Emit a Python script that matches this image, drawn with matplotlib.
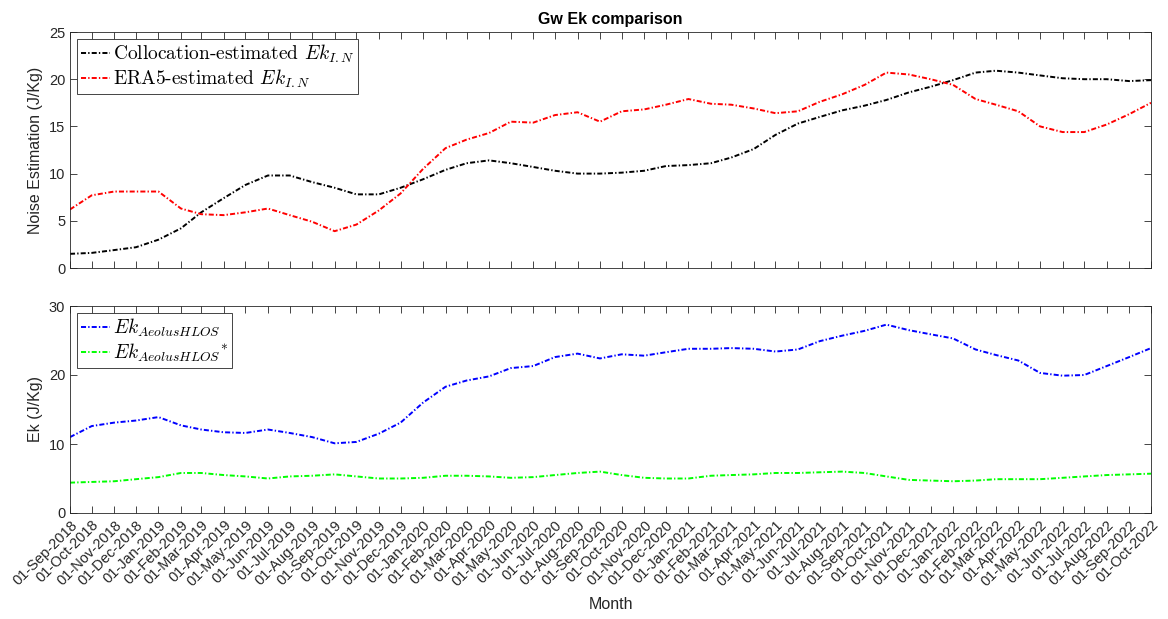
import numpy as np
import pandas as pd
import matplotlib
matplotlib.use("Agg")
import matplotlib.pyplot as plt
import matplotlib.dates as mdates

plt.rcParams['font.family'] = ['Liberation Sans', 'DejaVu Sans']
plt.rcParams['mathtext.fontset'] = 'cm'

# monthly samples, 01-Sep-2018 .. 01-Oct-2022
months = pd.date_range('2018-09-01', '2022-10-01', freq='MS')

# top panel: noise estimation
colloc_ek = [1.5, 1.6, 1.9, 2.2, 3.0, 4.2, 5.9, 7.4, 8.8, 9.8,
             9.8, 9.1, 8.5, 7.8, 7.8, 8.5, 9.4, 10.4, 11.1, 11.4,
             11.1, 10.7, 10.3, 10.0, 10.0, 10.1, 10.3, 10.8, 10.9, 11.1,
             11.7, 12.6, 14.1, 15.3, 16.0, 16.7, 17.2, 17.8, 18.6, 19.2,
             19.9, 20.7, 20.9, 20.7, 20.4, 20.1, 20.0, 20.0, 19.8, 19.9]
era5_ek = [6.2, 7.7, 8.1, 8.1, 8.1, 6.3, 5.7, 5.6, 5.9, 6.3,
           5.6, 4.9, 3.9, 4.6, 6.1, 7.9, 10.5, 12.7, 13.6, 14.3,
           15.5, 15.4, 16.2, 16.5, 15.5, 16.6, 16.8, 17.3, 17.9, 17.4,
           17.3, 16.9, 16.4, 16.6, 17.6, 18.4, 19.4, 20.7, 20.5, 20.0,
           19.4, 17.9, 17.3, 16.6, 15.0, 14.4, 14.4, 15.2, 16.3, 17.5]

# bottom panel: Aeolus HLOS Ek
aeolus_ek = [11.0, 12.6, 13.1, 13.4, 13.9, 12.7, 12.1, 11.7, 11.6, 12.1,
             11.6, 11.0, 10.1, 10.3, 11.5, 13.1, 16.0, 18.3, 19.2, 19.8,
             21.0, 21.3, 22.6, 23.1, 22.4, 23.0, 22.8, 23.3, 23.8, 23.8,
             23.9, 23.8, 23.4, 23.7, 24.9, 25.7, 26.4, 27.3, 26.5, 25.9,
             25.3, 23.7, 22.9, 22.1, 20.3, 19.9, 20.0, 21.3, 22.6, 23.9]
aeolus_star = [4.4, 4.5, 4.6, 4.9, 5.2, 5.8, 5.8, 5.5, 5.3, 5.0,
               5.3, 5.4, 5.6, 5.3, 5.0, 5.0, 5.1, 5.4, 5.4, 5.3,
               5.1, 5.2, 5.5, 5.8, 6.0, 5.5, 5.1, 5.0, 5.0, 5.4,
               5.5, 5.6, 5.8, 5.8, 5.9, 6.0, 5.8, 5.3, 4.8, 4.7,
               4.6, 4.7, 4.9, 4.9, 4.9, 5.1, 5.3, 5.5, 5.6, 5.7]

W, H = 1168, 619
fig = plt.figure(figsize=(W / 100, H / 100), dpi=100)
ax1 = fig.add_axes([70 / W, 1 - 268 / H, (1151 - 70) / W, (268 - 32) / H])
ax2 = fig.add_axes([70 / W, 1 - 513 / H, (1151 - 70) / W, (513 - 306) / H])

# matlab-like '-.' pattern
lw = 1.4
dd = (0, (2.6, 1.1, 0.7, 1.1))
ax1.plot(months, colloc_ek, color='k', ls=dd, lw=lw, label=r'Collocation-estimated $Ek_{I.N}$')
ax1.plot(months, era5_ek, color='r', ls=dd, lw=lw, label=r'ERA5-estimated $Ek_{I.N}$')
ax2.plot(months, aeolus_ek, color='#0000ff', ls=dd, lw=lw, label=r'$Ek_{AeolusHLOS}$')
ax2.plot(months, aeolus_star, color='#00ff00', ls=dd, lw=lw, label=r'$Ek_{AeolusHLOS}{}^{*}$')

edge = '#262626'
for ax in (ax1, ax2):
    ax.set_xlim(months[0], months[-1])
    ax.xaxis.set_major_locator(mdates.MonthLocator())
    ax.tick_params(direction='in', top=True, right=True, length=5, width=0.6,
                   colors=edge, labelsize=10.5, labelcolor='#262626')
    for s in ax.spines.values():
        s.set_color(edge)
        s.set_linewidth(0.6)
    leg = ax.legend(loc='upper left', fancybox=False, framealpha=1, handlelength=1.5,
                    borderaxespad=0.35, handletextpad=0.15, borderpad=0.2,
                    labelspacing=0.15, prop={'family': 'cmr10', 'size': 14})
    leg.get_frame().set_edgecolor(edge)
    leg.get_frame().set_linewidth(0.6)

ax1.set_ylim(0, 25)
ax1.set_yticks([0, 5, 10, 15, 20, 25])
ax1.tick_params(labelbottom=False)
ax2.set_ylim(0, 30)
ax2.set_yticks([0, 10, 20, 30])
ax2.xaxis.set_major_formatter(mdates.DateFormatter('%d-%b-%Y'))
plt.setp(ax2.get_xticklabels(), rotation=45, ha='right', rotation_mode='anchor')

ax1.set_ylabel('Noise Estimation (J/Kg)', fontsize=11.5, color='#262626')
ax2.set_ylabel('Ek (J/Kg)', fontsize=11.5, color='#262626')
ax2.set_xlabel('Month', fontsize=11.5, color='#262626', labelpad=6)
ax1.set_title('Gw Ek comparison', fontsize=11.5, fontweight='bold', pad=6)

fig.savefig('out.png', dpi=100)
